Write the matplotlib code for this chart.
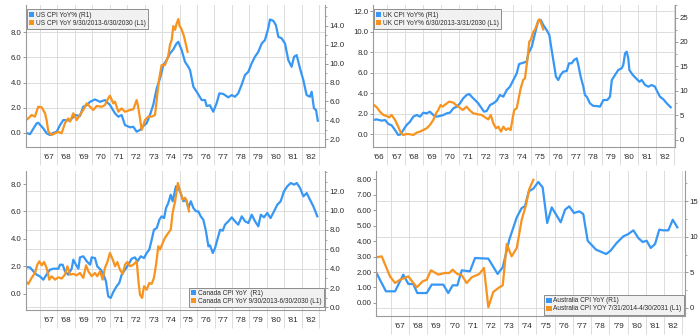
import matplotlib.pyplot as plt
from matplotlib.patches import Patch
from matplotlib.ticker import FormatStrFormatter, MultipleLocator

plt.rcParams['font.family'] = ['Liberation Sans', 'DejaVu Sans']

BLUE = '#3797f5'
ORANGE = '#f7931e'
GRID = '#dcdcdc'
SPINE = '#9a9a9a'
TXT = '#2a2a2a'

# ---- US: 1966-82 CPI YoY (right axis) vs 2013-22 CPI YoY (left axis), time in 1966-based years
us_t = [1966.20, 1966.43, 1966.81, 1966.90, 1967.19, 1967.38, 1967.57, 1967.76, 1967.96, 1968.15,
        1968.34, 1968.72, 1969.01, 1969.29, 1969.48, 1969.68, 1969.87, 1970.15, 1970.44, 1970.72,
        1971.01, 1971.30, 1971.49, 1971.68, 1971.87, 1972.16, 1972.35, 1972.54, 1972.73, 1972.92,
        1973.11, 1973.30, 1973.49, 1973.69, 1973.88, 1974.07, 1974.26, 1974.45, 1974.64, 1974.83,
        1974.93, 1975.12, 1975.31, 1975.50, 1975.60, 1975.79, 1975.98, 1976.27, 1976.46, 1976.55,
        1976.74, 1976.93, 1977.12, 1977.28, 1977.50, 1977.79, 1977.99, 1978.17, 1978.36, 1978.55,
        1978.75, 1978.94, 1979.13, 1979.32, 1979.51, 1979.71, 1979.89, 1980.08, 1980.18, 1980.37,
        1980.52, 1980.66, 1980.85, 1981.04, 1981.23, 1981.42, 1981.56, 1981.71, 1981.90, 1982.09,
        1982.28, 1982.47, 1982.57, 1982.70, 1982.82, 1982.92]
us_v = [2.68, 2.55, 3.69, 3.75, 3.16, 2.64, 2.46, 2.68, 2.81, 3.51,
        4.04, 4.00, 4.57, 4.46, 5.45, 5.60, 5.97, 6.22, 5.97, 6.15,
        5.63, 4.75, 4.39, 4.57, 3.51, 3.27, 3.33, 2.81, 2.99, 3.41,
        3.69, 4.57, 5.63, 7.39, 8.44, 9.85, 10.38, 11.08, 11.50, 12.14,
        12.31, 11.43, 10.20, 9.67, 9.32, 7.56, 7.03, 6.15, 6.15, 5.52,
        5.60, 4.92, 5.80, 6.86, 6.80, 6.44, 6.68, 6.50, 6.86, 7.74,
        8.80, 9.14, 10.03, 10.73, 11.25, 12.14, 12.49, 13.72, 14.67, 14.53,
        14.07, 12.84, 12.67, 12.14, 10.38, 9.67, 10.73, 10.90, 9.50, 8.27,
        6.68, 6.50, 7.03, 5.28, 5.10, 3.97]
us_new_t = [1966.20, 1966.33, 1966.52, 1966.71, 1966.90, 1967.10, 1967.29, 1967.38, 1967.48, 1967.67,
            1967.86, 1968.05, 1968.24, 1968.43, 1968.62, 1968.72, 1968.91, 1969.10, 1969.29, 1969.48,
            1969.68, 1969.87, 1970.05, 1970.25, 1970.54, 1970.72, 1970.91, 1971.01, 1971.20, 1971.30,
            1971.49, 1971.68, 1971.87, 1972.16, 1972.35, 1972.54, 1972.63, 1972.83, 1973.02, 1973.21,
            1973.40, 1973.59, 1973.69, 1973.82, 1973.97, 1974.16, 1974.35, 1974.45, 1974.55, 1974.64,
            1974.74, 1974.83, 1974.93, 1975.00, 1975.10, 1975.25, 1975.46]
us_new_v = [1.01, 1.14, 1.41, 1.28, 2.07, 2.02, 1.55, 1.01, 0.08, -0.18,
            -0.05, 0.08, -0.05, 0.75, 1.14, 0.88, 1.55, 1.01, 1.41, 1.81,
            2.34, 2.07, 1.81, 2.13, 2.07, 2.20, 2.74, 2.95, 2.34, 2.47,
            1.67, 1.94, 1.67, 1.81, 1.86, 2.60, 2.07, 0.22, 1.01, 1.28,
            1.28, 1.41, 2.60, 4.20, 5.39, 5.39, 6.10, 7.00, 7.40, 8.50,
            8.20, 8.70, 9.06, 8.50, 8.30, 7.70, 6.45]

# ---- UK
uk_t = [1966.17, 1966.40, 1966.68, 1966.86, 1967.05, 1967.23, 1967.42, 1967.60, 1967.74, 1967.88,
        1968.07, 1968.26, 1968.44, 1968.63, 1968.82, 1969.00, 1969.19, 1969.37, 1969.56, 1969.75,
        1969.93, 1970.12, 1970.31, 1970.49, 1970.68, 1970.87, 1971.05, 1971.23, 1971.42, 1971.57,
        1971.70, 1971.89, 1972.07, 1972.26, 1972.39, 1972.54, 1972.73, 1972.91, 1973.10, 1973.28,
        1973.47, 1973.66, 1973.84, 1974.03, 1974.22, 1974.35, 1974.59, 1974.78, 1974.87, 1975.06,
        1975.24, 1975.42, 1975.56, 1975.70, 1975.89, 1976.04, 1976.17, 1976.26, 1976.41, 1976.54,
        1976.67, 1976.82, 1977.01, 1977.14, 1977.29, 1977.42, 1977.57, 1977.66, 1977.79, 1977.94,
        1978.03, 1978.13, 1978.31, 1978.50, 1978.69, 1978.87, 1979.06, 1979.28, 1979.43, 1979.53,
        1979.71, 1979.89, 1980.08, 1980.17, 1980.27, 1980.36, 1980.45, 1980.51, 1980.70, 1980.88,
        1981.07, 1981.20, 1981.39, 1981.57, 1981.76, 1981.94, 1982.07, 1982.22, 1982.41, 1982.60,
        1982.82]
uk_v = [4.08, 4.20, 3.95, 4.08, 3.27, 3.00, 2.04, 1.02, 1.16, 2.04,
        3.06, 3.74, 4.76, 5.10, 4.76, 5.58, 5.44, 5.78, 5.10, 4.76,
        4.90, 5.10, 5.44, 5.58, 6.46, 6.80, 7.48, 8.50, 9.18, 9.39,
        8.84, 8.16, 7.48, 6.46, 5.78, 5.92, 7.14, 7.48, 8.02, 9.18,
        8.84, 10.20, 10.88, 12.24, 13.60, 15.50, 15.78, 16.00, 17.69, 19.05,
        21.77, 24.35, 24.49, 23.47, 22.45, 21.43, 18.37, 16.33, 12.93, 12.24,
        13.27, 13.95, 14.08, 15.65, 15.65, 16.33, 16.67, 15.31, 12.93, 10.88,
        9.18, 8.84, 7.48, 6.94, 6.94, 6.80, 8.16, 8.16, 8.84, 12.24,
        13.27, 14.29, 14.63, 15.31, 17.69, 18.03, 16.67, 14.29, 13.27, 12.59,
        11.90, 12.24, 11.22, 10.88, 11.22, 10.88, 9.86, 8.84, 8.30, 7.48,
        6.67]
uk_new_t = [1966.17, 1966.40, 1966.58, 1966.77, 1966.96, 1967.10, 1967.23, 1967.42, 1967.60, 1967.74,
            1967.88, 1968.07, 1968.26, 1968.44, 1968.63, 1968.82, 1969.00, 1969.19, 1969.37, 1969.56,
            1969.71, 1969.84, 1969.97, 1970.08, 1970.27, 1970.45, 1970.68, 1970.83, 1971.01, 1971.20,
            1971.42, 1971.57, 1971.79, 1972.02, 1972.26, 1972.45, 1972.63, 1972.77, 1972.91, 1973.06,
            1973.19, 1973.34, 1973.47, 1973.62, 1973.75, 1973.88, 1973.99, 1974.08, 1974.22, 1974.31,
            1974.44, 1974.58, 1974.68, 1974.81, 1974.92, 1975.00, 1975.15, 1975.24, 1975.37, 1975.48,
            1975.58, 1975.70]
uk_new_v = [2.95, 2.63, 2.20, 1.88, 1.78, 1.65, 1.88, 1.40, 0.74, 0.16,
            -0.07, 0.03, 0.00, -0.07, 0.16, 0.26, 0.42, 0.58, 0.91, 1.40,
            2.04, 2.37, 2.85, 2.69, 2.95, 3.18, 3.08, 2.85, 2.63, 2.37,
            2.69, 2.37, 2.04, 1.95, 1.88, 1.65, 1.45, 1.88, 1.07, 0.58,
            0.74, 0.26, 0.74, 0.42, 0.58, 0.42, 1.56, 2.37, 2.53, 3.34,
            4.48, 5.29, 5.45, 7.20, 9.02, 9.18, 9.99, 10.20, 10.81, 11.20,
            10.81, 10.22]

# ---- Canada
ca_t = [1966.20, 1966.43, 1966.62, 1966.81, 1967.00, 1967.19, 1967.34, 1967.57, 1967.76, 1968.05,
        1968.15, 1968.30, 1968.43, 1968.62, 1968.82, 1968.91, 1969.06, 1969.20, 1969.29, 1969.48,
        1969.68, 1969.87, 1969.96, 1970.15, 1970.28, 1970.48, 1970.63, 1970.78, 1970.91, 1971.05,
        1971.20, 1971.39, 1971.54, 1971.68, 1971.87, 1972.06, 1972.25, 1972.44, 1972.58, 1972.77,
        1972.96, 1973.11, 1973.26, 1973.40, 1973.53, 1973.69, 1973.84, 1973.97, 1974.11, 1974.22,
        1974.35, 1974.49, 1974.60, 1974.70, 1974.79, 1974.93, 1975.06, 1975.21, 1975.37, 1975.50,
        1975.64, 1975.79, 1975.94, 1976.07, 1976.21, 1976.36, 1976.51, 1976.65, 1976.74, 1976.90,
        1977.03, 1977.16, 1977.32, 1977.47, 1977.60, 1977.79, 1977.99, 1978.17, 1978.36, 1978.56,
        1978.75, 1978.94, 1979.13, 1979.32, 1979.51, 1979.65, 1979.83, 1980.02, 1980.21, 1980.41,
        1980.60, 1980.79, 1980.98, 1981.17, 1981.37, 1981.56, 1981.71, 1981.90, 1982.09, 1982.28,
        1982.47, 1982.66, 1982.89]
ca_v = [4.17, 4.13, 3.73, 3.38, 3.20, 2.86, 3.30, 3.89, 4.00, 4.00,
        4.41, 4.41, 3.73, 3.38, 4.03, 4.93, 4.41, 4.00, 5.17, 5.28,
        4.76, 4.41, 5.17, 5.10, 4.24, 3.89, 3.45, 2.69, 1.14, 0.97,
        1.59, 2.18, 2.52, 3.38, 3.89, 4.41, 5.03, 5.17, 4.76, 5.28,
        5.10, 5.62, 5.96, 7.00, 8.03, 8.20, 9.06, 9.41, 9.23, 10.27,
        10.79, 11.65, 10.97, 11.80, 12.52, 12.34, 11.82, 10.97, 11.13, 10.27,
        10.97, 10.27, 9.93, 9.93, 9.41, 9.06, 7.86, 6.31, 6.41, 5.62,
        6.14, 7.00, 8.03, 7.93, 8.55, 8.90, 9.31, 8.90, 8.55, 9.41,
        8.90, 8.72, 9.58, 8.90, 8.38, 9.58, 9.31, 9.76, 9.23, 9.93,
        10.62, 10.97, 12.00, 12.52, 12.86, 12.69, 12.86, 12.34, 11.48, 11.82,
        11.13, 10.45, 9.41]
ca_new_t = [1966.20, 1966.33, 1966.52, 1966.71, 1966.85, 1966.96, 1967.10, 1967.23, 1967.38, 1967.53,
            1967.67, 1967.86, 1968.05, 1968.24, 1968.43, 1968.57, 1968.72, 1968.91, 1969.10, 1969.29,
            1969.48, 1969.64, 1969.77, 1969.96, 1970.15, 1970.28, 1970.44, 1970.59, 1970.72, 1970.86,
            1971.01, 1971.17, 1971.30, 1971.43, 1971.58, 1971.74, 1971.87, 1972.00, 1972.16, 1972.35,
            1972.54, 1972.66, 1972.73, 1972.85, 1972.96, 1973.11, 1973.26, 1973.40, 1973.53, 1973.65,
            1973.78, 1973.88, 1974.03, 1974.16, 1974.35, 1974.49, 1974.60, 1974.74, 1974.90, 1975.02,
            1975.18, 1975.31, 1975.41, 1975.54]
ca_new_v = [0.90, 0.71, 1.15, 1.51, 2.12, 2.36, 2.07, 2.31, 1.88, 1.02,
            1.27, 1.02, 1.19, 1.10, 1.39, 2.00, 1.39, 1.44, 1.34, 1.51,
            1.15, 2.07, 1.63, 1.27, 1.51, 1.27, 1.63, 1.02, 1.88, 2.31,
            2.97, 2.48, 2.00, 2.31, 1.75, 1.44, 2.12, 2.31, 2.00, 2.12,
            2.36, 0.66, -0.07, -0.31, 0.54, 0.29, 0.78, 0.71, 1.15, 2.12,
            3.46, 3.22, 3.70, 4.07, 4.43, 4.67, 5.90, 6.74, 8.08, 7.50,
            6.86, 7.00, 6.74, 6.01]

# ---- Australia (quarterly)
au_t = [1966.22, 1966.74, 1967.24, 1967.69, 1967.97, 1968.24, 1968.46, 1968.98, 1969.25, 1969.89,
        1970.16, 1970.40, 1970.66, 1970.90, 1971.35, 1971.63, 1972.36, 1972.87, 1973.15, 1973.51,
        1973.92, 1974.19, 1974.37, 1974.58, 1974.83, 1975.10, 1975.34, 1975.59, 1975.84, 1976.33,
        1976.57, 1976.80, 1977.06, 1977.35, 1977.57, 1977.81, 1978.27, 1978.49, 1978.82, 1979.07,
        1979.40, 1979.77, 1980.04, 1980.32, 1980.59, 1980.83, 1981.05, 1981.27, 1981.51, 1981.74,
        1981.96, 1982.24, 1982.48, 1982.73]
au_v = [4.92, 2.34, 2.34, 4.68, 3.37, 3.37, 2.10, 2.10, 3.28, 3.28,
        2.10, 3.18, 3.18, 5.29, 5.15, 7.02, 6.93, 4.78, 5.72, 9.60,
        12.74, 14.04, 14.30, 16.39, 16.76, 17.70, 16.95, 11.94, 14.14, 12.04,
        13.81, 14.28, 13.34, 13.58, 13.20, 9.45, 8.19, 7.96, 7.58, 8.05,
        9.13, 10.07, 10.39, 10.91, 9.83, 9.27, 9.45, 8.43, 8.99, 11.00,
        10.91, 10.91, 12.40, 11.33]
au_new_t = [1966.22, 1966.51, 1966.96, 1967.24, 1967.51, 1967.97, 1968.43, 1968.76, 1968.98, 1969.21,
            1969.62, 1969.98, 1970.22, 1970.40, 1970.66, 1970.90, 1971.17, 1971.45, 1971.86, 1972.12,
            1972.36, 1972.63, 1972.91, 1973.15, 1973.37, 1973.64, 1973.92, 1974.19, 1974.43, 1974.61,
            1974.83]
au_new_v = [2.95, 3.01, 1.72, 1.29, 1.50, 1.72, 1.01, 1.40, 1.50, 2.11,
            1.83, 1.94, 1.94, 2.15, 1.87, 1.79, 1.29, 1.66, 1.87, 2.26,
            -0.28, 0.71, 0.97, 1.14, 3.81, 3.01, 3.55, 5.37, 6.34, 7.37,
            7.95]

fig = plt.figure(figsize=(7, 3.36), dpi=100)


def panel(rect, xlim, ylim_l, ylim_r, ticks_l, ticks_r, fmt_l, fmt_r, minor_r,
          year_labels, blue, orange, names, leg_loc, leg_anchor, grid_on):
    al = fig.add_axes(rect)
    ar = al.twinx()
    al.set_zorder(ar.get_zorder() + 1)
    al.patch.set_visible(False)

    al.set_xlim(*xlim)
    al.set_ylim(*ylim_l)
    ar.set_ylim(*ylim_r)

    # gridlines live on the lower axes so the series stay on top
    if grid_on == 'left':
        (l0, l1), (r0, r1) = ylim_l, ylim_r
        rows = [r0 + (v - l0) * (r1 - r0) / (l1 - l0) for v in ticks_l]
    else:
        rows = ticks_r
    for v in rows:
        ar.axhline(v, color=GRID, lw=0.7, zorder=0)
    bounds = [y for y in range(1966, 1985) if xlim[0] < y < xlim[1]]
    for y in bounds:
        ar.axvline(y, color=GRID, lw=0.7, zorder=0)

    ar.plot(blue[0], blue[1], color=BLUE, lw=1.6, solid_joinstyle='round')
    al.plot(orange[0], orange[1], color=ORANGE, lw=1.6, solid_joinstyle='round')

    for a in (al, ar):
        a.spines['top'].set_visible(False)
    al.spines['right'].set_visible(False)
    ar.spines['left'].set_visible(False)
    ar.spines['bottom'].set_visible(False)
    for s in ('left', 'bottom'):
        al.spines[s].set_color(SPINE)
        al.spines[s].set_linewidth(0.8)
    ar.spines['right'].set_color(SPINE)
    ar.spines['right'].set_linewidth(0.8)

    al.set_yticks(ticks_l)
    al.yaxis.set_major_formatter(FormatStrFormatter(fmt_l))
    ar.set_yticks(ticks_r)
    ar.yaxis.set_major_formatter(FormatStrFormatter(fmt_r))
    ar.yaxis.set_minor_locator(MultipleLocator(minor_r))
    al.tick_params(axis='y', length=2.2, width=0.7, color=SPINE, pad=1,
                   labelsize=5.6, labelcolor=TXT)
    ar.tick_params(axis='y', which='major', length=2.2, width=0.7, color=SPINE, pad=1,
                   labelsize=5.6, labelcolor=TXT)
    ar.tick_params(axis='y', which='minor', length=1.3, width=0.6, color=SPINE)

    # year separators run down through the label row, labels sit mid-year
    al.set_xticks(bounds, [''] * len(bounds))
    al.set_xticks([y + 0.5 for y in year_labels],
                  ["'%02d" % (y % 100) for y in year_labels], minor=True)
    al.tick_params(axis='x', which='major', length=13, width=0.7, color=GRID)
    al.tick_params(axis='x', which='minor', length=0, pad=5, labelsize=5.9,
                   labelcolor=TXT)

    handles = [Patch(facecolor=BLUE, edgecolor='none', label=names[0]),
               Patch(facecolor=ORANGE, edgecolor='none', label=names[1])]
    leg = al.legend(handles=handles, loc=leg_loc, bbox_to_anchor=leg_anchor,
                    fontsize=4.7, frameon=True, fancybox=False, framealpha=1,
                    facecolor='#f1f1f1', edgecolor='#8c8c8c', borderaxespad=0,
                    handlelength=0.8, handleheight=0.8, handletextpad=0.3,
                    borderpad=0.35, labelspacing=0.15)
    leg.get_frame().set_linewidth(0.7)
    for t in leg.get_texts():
        t.set_color(TXT)
    return al, ar


panel([0.0371, 0.5625, 0.4271, 0.4226], (1966.198, 1983.33), (-1.14, 10.18), (1.19, 16.2),
      [0, 2, 4, 6, 8], [2, 4, 6, 8, 10, 12, 14], '%.1f', '%.1f', 1,
      list(range(1967, 1983)), (us_t, us_v), (us_new_t, us_new_v),
      ['US CPI YoY% (R1)', 'US CPI YoY 9/30/2013-6/30/2030 (L1)'],
      'upper left', (0.003, 0.97), 'left')

panel([0.5324, 0.5625, 0.4319, 0.4226], (1966.173, 1983.06), (-1.24, 12.59), (-1.43, 27.55),
      [0, 2, 4, 6, 8, 10, 12], [0, 5, 10, 15, 20, 25], '%.1f', '%d', 2.5,
      list(range(1966, 1983)), (uk_t, uk_v), (uk_new_t, uk_new_v),
      ['UK CPI YoY% (R1)', 'UK CPI YoY% 6/30/2013-3/31/2030 (L1)'],
      'upper left', (0.003, 0.97), 'left')

panel([0.0367, 0.0783, 0.4276, 0.4119], (1966.18, 1983.33), (-1.17, 8.93), (-0.24, 14.07),
      [0, 2, 4, 6, 8], [0, 2, 4, 6, 8, 10, 12], '%.1f', '%.1f', 1,
      list(range(1967, 1983)), (ca_t, ca_v), (ca_new_t, ca_new_v),
      ['Canada CPI YoY  (R1)', 'Canada CPI YoY 9/30/2013-6/30/2030 (L1)'],
      'lower right', (0.997, 0.017), 'right')

panel([0.5371, 0.0586, 0.4414, 0.4315], (1966.193, 1983.15), (-0.86, 8.5), (-1.17, 19.2),
      [0, 1, 2, 3, 4, 5, 6, 7, 8], [0, 5, 10, 15], '%.2f', '%d', 2.5,
      list(range(1967, 1983)), (au_t, au_v), (au_new_t, au_new_v),
      ['Australia CPI YoY (R1)', 'Australia CPI YOY 7/31/2014-4/30/2031 (L1)'],
      'lower right', (0.997, 0.011), 'right')

fig.savefig('out.png', dpi=100)
